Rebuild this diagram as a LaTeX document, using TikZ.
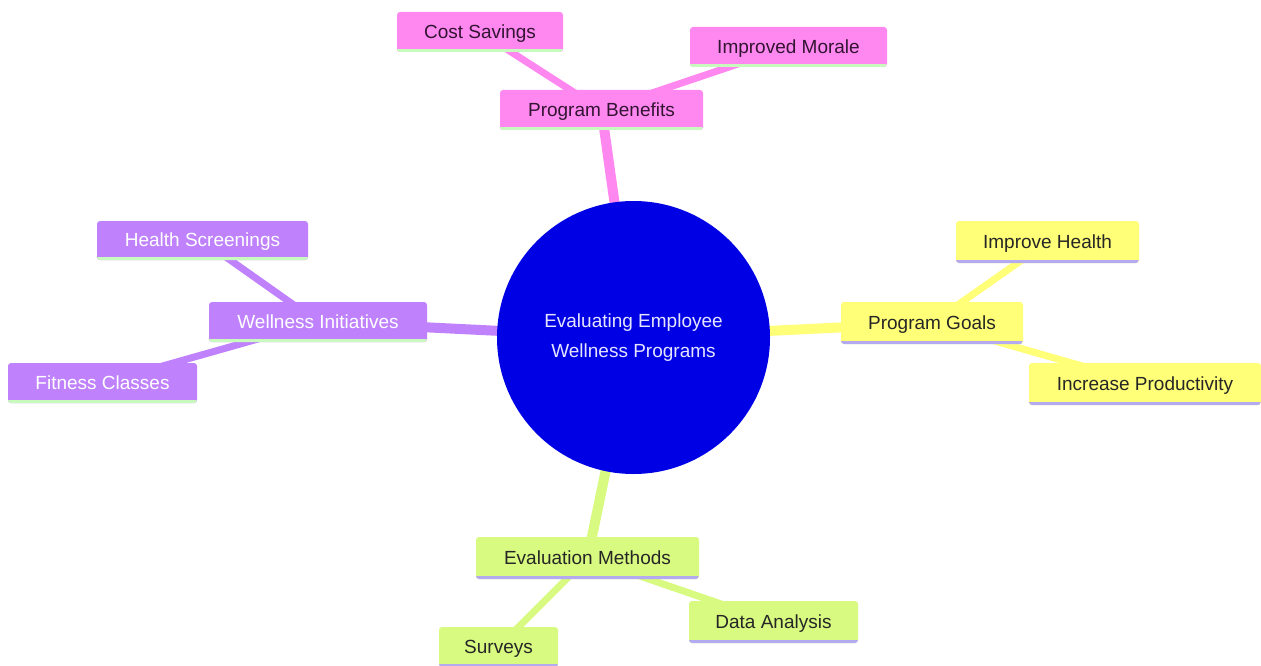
\documentclass[tikz,border=0pt]{standalone}
\usepackage{fontspec}
\setmainfont{Liberation Sans}
\definecolor{pinkc}{RGB}{255,136,240}
\definecolor{purpc}{RGB}{192,130,252}
\definecolor{yelc}{RGB}{255,255,120}
\definecolor{grnc}{RGB}{216,250,128}
\definecolor{lgrn}{RGB}{200,250,190}
\definecolor{lav}{RGB}{180,170,240}
\definecolor{rootc}{RGB}{0,0,228}
\definecolor{pinktxt}{RGB}{50,20,50}
\pgfdeclarelayer{bg}\pgfsetlayers{bg,main}
\begin{document}
\begin{tikzpicture}[x=1pt,y=-1pt,
  box/.style={rectangle,rounded corners=3pt,inner sep=0pt,align=center,
    font=\fontsize{19}{23}\selectfont,text depth=1pt},
  bline/.style={path picture={\draw[line width=6pt,#1]
      (path picture bounding box.south west) -- (path picture bounding box.south east);}},
  pinkbox/.style={box,fill=pinkc,text=pinktxt,bline=lgrn},
  purpbox/.style={box,fill=purpc,text=white,bline=lgrn},
  yelbox/.style={box,fill=yelc,text=black!85,bline=lav},
  grnbox/.style={box,fill=grnc,text=black!85,bline=lav},
  mainedge/.style={line width=10pt,#1},
  subedge/.style={line width=7pt,#1}]
\useasboundingbox (0,0) rectangle (1261,666);
% nodes
\node[circle,fill=rootc,minimum size=273pt,inner sep=0pt,align=center,text=white!90!blue,
  font=\fontsize{19}{30}\selectfont] (root) at (633.5,337.5) {Evaluating Employee\\ Wellness Programs};
\node[pinkbox,minimum width=203pt,minimum height=40pt] (benefits) at (601.5,110) {Program Benefits};
\node[pinkbox,minimum width=166pt,minimum height=40pt] (cost) at (480,32) {Cost Savings};
\node[pinkbox,minimum width=197pt,minimum height=40pt] (morale) at (788.5,47) {Improved Morale};
\node[purpbox,minimum width=218pt,minimum height=40pt] (wellness) at (318,322) {Wellness Initiatives};
\node[purpbox,minimum width=211pt,minimum height=39pt] (health) at (202.5,240.5) {Health Screenings};
\node[purpbox,minimum width=189pt,minimum height=40pt] (fitness) at (102.5,383) {Fitness Classes};
\node[yelbox,minimum width=182pt,minimum height=42pt] (goals) at (932,323) {Program Goals};
\node[yelbox,minimum width=183pt,minimum height=42pt] (improve) at (1047.5,242) {Improve Health};
\node[yelbox,minimum width=232pt,minimum height=42pt] (increase) at (1145,384) {Increase Productivity};
\node[grnbox,minimum width=223pt,minimum height=42pt] (eval) at (587.5,558) {Evaluation Methods};
\node[grnbox,minimum width=119pt,minimum height=40pt] (surveys) at (498.5,647) {Surveys};
\node[grnbox,minimum width=169pt,minimum height=42pt] (data) at (773.5,622) {Data Analysis};
% edges behind nodes
\begin{pgfonlayer}{bg}
\draw[mainedge=pinkc] (root.center) -- (benefits.center);
\draw[mainedge=purpc] (root.center) -- (wellness.center);
\draw[mainedge=yelc] (root.center) -- (goals.center);
\draw[mainedge=grnc] (root.center) -- (eval.center);
\draw[subedge=pinkc] (benefits.center) -- (cost.center);
\draw[subedge=pinkc] (benefits.center) -- (morale.center);
\draw[subedge=purpc] (wellness.center) -- (health.center);
\draw[subedge=purpc] (wellness.center) -- (fitness.center);
\draw[subedge=yelc] (goals.center) -- (improve.center);
\draw[subedge=yelc] (goals.center) -- (increase.center);
\draw[subedge=grnc] (eval.center) -- (surveys.center);
\draw[subedge=grnc] (eval.center) -- (data.center);
\end{pgfonlayer}
\end{tikzpicture}
\end{document}
